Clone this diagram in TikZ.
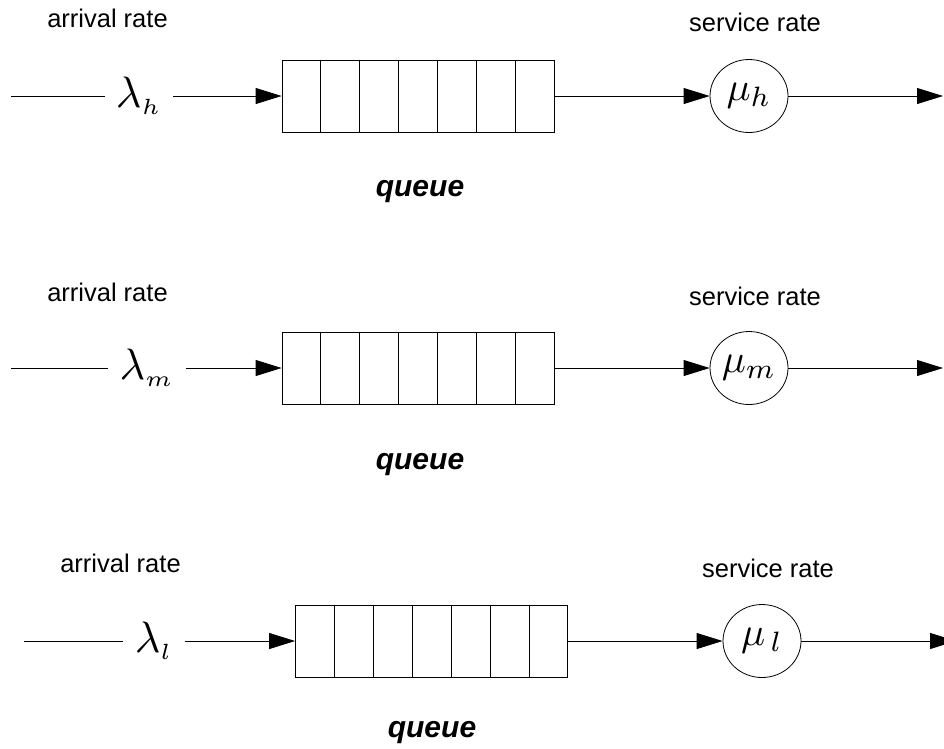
\documentclass[tikz,border=0pt]{standalone}
\usepackage{fontspec}
\setmainfont{Liberation Sans}
\usetikzlibrary{arrows.meta, positioning, shapes.geometric, calc}
\newcommand{\bigsym}[2]{\scalebox{#1}{\fontsize{10}{12}\selectfont$#2$}}

\begin{document}
\begin{tikzpicture}[
        x=1pt, y=-1pt,
        line width=0.8pt,
        lbl/.style={font=\fontsize{25.5}{30}\selectfont, inner sep=0pt},
        qlbl/.style={font=\fontsize{30}{34}\selectfont\bfseries\itshape, inner sep=0pt},
        rate/.style={inner ysep=0pt, inner xsep=11pt},
        queue/.style={rectangle, draw, minimum width=272pt, minimum height=72pt, inner sep=0pt},
        server/.style={ellipse, draw, minimum width=78pt, minimum height=73pt, inner sep=0pt},
        arr/.style={-{Triangle[length=26pt, width=16pt]}}
    ]
        \useasboundingbox (0,0) rectangle (944,748);

        % high priority
        \node[lbl] (arrh) at (107.5,18) {arrival rate};
        \node[lbl] (srvh) at (755,22) {service rate};
        \coordinate (inh) at (11,96);
        \node[rate] (lamh) at (139,96) {\bigsym{4.4}{\lambda_{\scriptscriptstyle h}}};
        \node[queue] (qh) at (418,96) {};
        \node[server] (muh) at (749,96) {\bigsym{4}{\mu_h}};
        \coordinate (outh) at (943,96);
        \node[qlbl] (qlh) at (420,192) {queue};
        \draw (inh) -- (lamh);
        \draw[arr] (lamh) -- (qh);
        \draw[arr] (qh) -- (muh);
        \draw[arr] (muh) -- (outh);

        % medium priority
        \node[lbl] (arrm) at (107.5,292) {arrival rate};
        \node[lbl] (srvm) at (755,296) {service rate};
        \coordinate (inm) at (11,368);
        \node[rate] (lamm) at (147,368) {\bigsym{4.4}{\lambda_{\scriptscriptstyle m}}};
        \node[queue] (qm) at (418,368) {};
        \node[server] (mum) at (749,368) {\bigsym{4}{\mu_m}};
        \coordinate (outm) at (943,368);
        \node[qlbl] (qlm) at (420,465) {queue};
        \draw (inm) -- (lamm);
        \draw[arr] (lamm) -- (qm);
        \draw[arr] (qm) -- (mum);
        \draw[arr] (mum) -- (outm);

        % low priority
        \node[lbl] (arrl) at (120.5,563) {arrival rate};
        \node[lbl] (srvl) at (768,568) {service rate};
        \coordinate (inl) at (24,641);
        \node[rate] (laml) at (154,641) {\bigsym{4.4}{\lambda_{\scriptscriptstyle l}}};
        \node[queue] (ql) at (431.5,641) {};
        \node[server] (mul) at (762,641) {\bigsym{4}{\mu_{\,l}}};
        \coordinate (outl) at (956,641);
        \node[qlbl] (qll) at (432,733) {queue};
        \draw (inl) -- (laml);
        \draw[arr] (laml) -- (ql);
        \draw[arr] (ql) -- (mul);
        \draw[arr] (mul) -- (outl);

        % queue cells
        \foreach \q in {qh, qm, ql}
            \foreach \i in {1,...,6}
                \draw ($(\q.north west)!\i/7!(\q.north east)$) -- ($(\q.south west)!\i/7!(\q.south east)$);
    \end{tikzpicture}
\end{document}
